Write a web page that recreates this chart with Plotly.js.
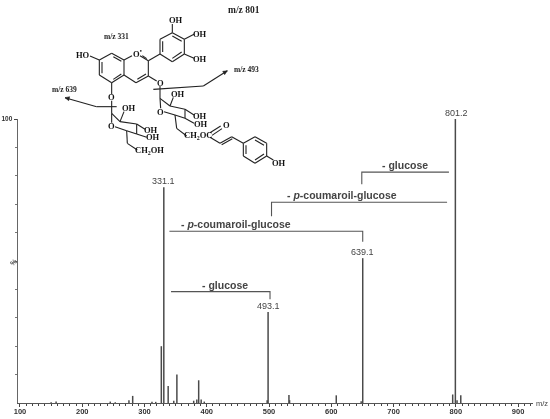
<!DOCTYPE html>
<html><head><meta charset="utf-8">
<script src="https://cdn.plot.ly/plotly-3.0.1.min.js"></script>
<style>html,body{margin:0;padding:0;background:#fff}#c{width:550px;height:419px;filter:blur(0.4px)}</style>
</head><body><div id="c"></div>
<script>
// Spectrum values
const peakMz = [150,158,245,253,275,281,312,318,327,331,338,347,352,379,384,387,391,396,497,498.5,532,533,608,648,650.5,795,799.3,802,808];
const peakIntensity = [0.3,0.5,0.5,0.3,1,2.5,0.4,0.4,20,76,6,0.8,10,0.8,1.2,8,1.2,0.5,1,32,2.8,1,2.7,0.6,51,3,100,1,2.7];
const peakLabels = [['331.1',331,76],['493.1',498.5,32],['639.1',650.5,51],['801.2',800.5,100]];
const brackets = [
  {x:[649,649,789],y:[77,81.3,81.3],label:'- glucose',lx:719,ly:83.7},
  {x:[504,504,786],y:[65.8,70.7,70.7],label:'- <i>p</i>-coumaroil-glucose',lx:617,ly:73.1},
  {x:[340,650.5,650.5],y:[60.5,60.5,56.8],label:'- <i>p</i>-coumaroil-glucose',lx:446.5,ly:62.9},
  {x:[342.6,501.6,501.6],y:[39.2,39.2,36.5],label:'- glucose',lx:429,ly:41.6}
];
const xTicks = [100,200,300,400,500,600,700,800,900];

// Molecule drawing, in the coordinates of a 3x enlargement of the picture
const bonds = [
 [298,180,335,160],[335,160,372,180],[372,180,372,225],[372,225,335,248],[335,248,298,225],[298,225,298,180],
 [306,186,306,220],[340,170,364,184],[340,238,364,222],
 [372,180,396,167],[420,167,445,182],[445,182,445,228],[445,228,408,248],[408,248,372,225],[412,238,438,222],[427,167,440,176],
 [270,168,298,180],
 [445,182,480,162],[480,162,480,118],[480,118,517,98],[517,98,553,118],[553,118,553,162],[553,162,517,185],[517,185,480,162],
 [488,156,488,124],[517,108,545,124],[545,156,517,175],
 [517,98,517,72],[553,118,582,103],[553,162,582,175],
 [445,228,470,243],[480,258,480,295],[460,268,610,258],[610,258,682,212],
 [480,295,510,318],[510,318,555,328],[555,328,555,355],[555,355,525,345],[525,345,492,335],[482,325,480,295],
 [510,318,520,292],[555,328,582,345],[555,355,582,370],[525,345,530,385],[530,385,560,408],
 [630,398,662,378],[636,406,666,386],[630,412,660,430],[660,430,695,410],[665,434,697,416],[695,410,730,430],
 [730,430,765,410],[765,410,800,430],[800,430,800,468],[800,468,765,490],[765,490,730,468],[730,468,730,430],
 [738,436,738,462],[765,420,792,436],[792,462,765,480],[800,468,820,480],
 [335,248,335,283],[335,302,335,340],[350,320,290,320],[290,320,195,293],
 [335,340,360,365],[360,365,410,372],[410,372,410,402],[410,402,380,392],[380,392,345,380],[335,368,335,340],
 [360,365,372,335],[410,372,435,388],[410,402,440,412],[380,392,382,430],[382,430,412,450]
];
const arrowTips = [[682,212,668,214,674,224],[195,293,209,290,206,302]];
const chemLabels = [
 ['HO',250,166],['O<sup>•</sup>',411,160],['OH',527,61],['OH',600,101],['OH',600,178],
 ['O',480,248],['OH',535,283],['O',481,335],['OH',600,347],['OH',603,371],['CH<sub>2</sub>OC',595,407],['O',680,375],['OH',836,488],
 ['O',335,292],['OH',388,325],['O',334,378],['OH',452,390],['OH',458,412],['CH<sub>2</sub>OH',448,451]
];
const serifLabels = [['m/z 331',348,108,9],['m/z 493',738,208,9],['m/z 639',192,268,9],['m/z 801',731,30,11]];

const W=550,H=419;
const margin={l:18,r:17,t:119,b:16};
const pw=W-margin.l-margin.r, ph=H-margin.t-margin.b;
const qx=a=>(a/3-margin.l)/pw, qy=a=>1-(a/3-margin.t)/ph;
const chem=bonds.map(b=>({type:'line',xref:'paper',yref:'paper',x0:qx(b[0]),y0:qy(b[1]),x1:qx(b[2]),y1:qy(b[3]),line:{color:'#222',width:1.1}}));
arrowTips.forEach(t=>{chem.push({type:'path',xref:'paper',yref:'paper',
  path:`M${qx(t[0])},${qy(t[1])}L${qx(t[2])},${qy(t[3])}L${qx(t[4])},${qy(t[5])}Z`,fillcolor:'#222',line:{color:'#222',width:0.5}});});
brackets.forEach(b=>{chem.push({type:'path',xref:'x',yref:'y',
  path:`M${b.x[0]},${b.y[0]}L${b.x[1]},${b.y[1]}L${b.x[2]},${b.y[2]}`,line:{color:'#555',width:1.1},fillcolor:'rgba(0,0,0,0)'});});

const ann=[];
const mid={xanchor:'center',yanchor:'middle',showarrow:false};
peakLabels.forEach(l=>ann.push({...mid,x:l[1],y:l[2],xref:'x',yref:'y',text:l[0],yshift:6.5,font:{family:'Liberation Sans',size:9,color:'#444'}}));
brackets.forEach(b=>ann.push({...mid,x:b.lx,y:b.ly,xref:'x',yref:'y',text:'<b>'+b.label+'</b>',font:{family:'Liberation Sans',size:10.5,color:'#444'}}));
chemLabels.forEach(l=>ann.push({...mid,x:qx(l[1]),y:qy(l[2]),xref:'paper',yref:'paper',text:'<b>'+l[0]+'</b>',borderpad:0,font:{family:'Liberation Serif',size:8.5,color:'#111'}}));
serifLabels.forEach(l=>ann.push({...mid,x:qx(l[1]),y:qy(l[2]),xref:'paper',yref:'paper',text:'<b>'+l[0]+'</b>',font:{family:'Liberation Serif',size:l[3]-1.5,color:'#222'}}));
ann.push({x:1,y:0,xref:'paper',yref:'paper',xanchor:'left',yanchor:'middle',text:'m/z',showarrow:false,xshift:1,font:{family:'Liberation Sans',size:7.5,color:'#444'}});
ann.push({x:0,y:0.5,xref:'paper',yref:'paper',xanchor:'center',yanchor:'middle',text:'<b>%</b>',showarrow:false,textangle:-45,xshift:-5,yshift:-1,font:{family:'Liberation Sans',size:7,color:'#444'}});

Plotly.newPlot('c',[{type:'bar',x:peakMz,y:peakIntensity,width:2.4,marker:{color:'#4a4a4a',line:{width:0}},hoverinfo:'skip'}],{
  width:W,height:H,margin,paper_bgcolor:'#fff',plot_bgcolor:'#fff',showlegend:false,
  xaxis:{range:[96.8,924],tickvals:xTicks,ticktext:xTicks.map(String),ticks:'outside',ticklen:3,tickcolor:'#444',tickwidth:1,ticklabelstandoff:-2,
    showline:true,linecolor:'#555',linewidth:1.4,showgrid:false,zeroline:false,
    minor:{tickvals:Array.from({length:83},(_,i)=>100+i*10),ticks:'outside',ticklen:2,tickcolor:'#444',showgrid:false},
    tickfont:{family:'Liberation Sans',size:7.5,weight:700,color:'#333'}},
  yaxis:{range:[0,100],tickvals:[100],ticks:'outside',ticklen:3,tickcolor:'#444',
    showline:true,linecolor:'#666',linewidth:1.4,showgrid:false,zeroline:false,
    minor:{tickvals:[10,20,30,40,50,60,70,80,90],ticks:'outside',ticklen:1.5,tickcolor:'#777',showgrid:false},
    tickfont:{family:'Liberation Sans',size:6.5,weight:700,color:'#333'}},
  shapes:chem,annotations:ann
},{displayModeBar:false,staticPlot:true});
</script></body></html>
